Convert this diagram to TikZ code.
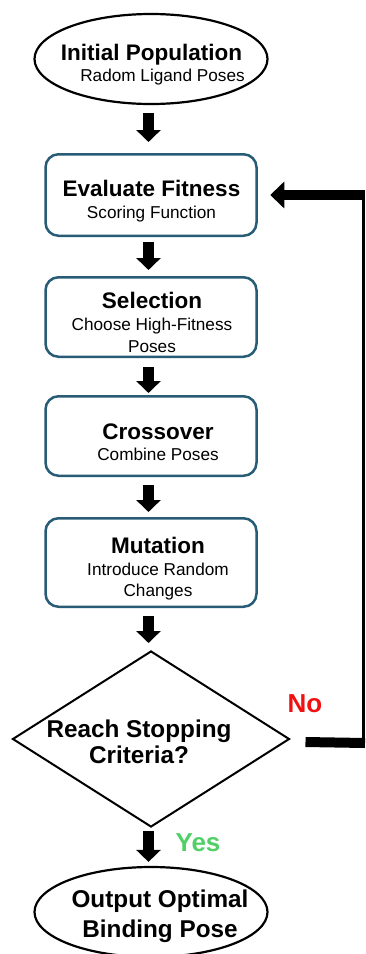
\documentclass[tikz,border=0pt]{standalone}
\usepackage{fontspec}
\setmainfont{Liberation Sans}
\usetikzlibrary{arrows.meta,shapes.geometric}
\definecolor{boxline}{RGB}{40,92,118}
\definecolor{nored}{RGB}{240,18,18}
\definecolor{yesgreen}{RGB}{80,208,102}
\newcommand{\hdtxt}{\fontsize{22.5}{26}\selectfont\bfseries}
\newcommand{\bigtxt}{\fontsize{24.3}{28}\selectfont\bfseries}
\newcommand{\marktxt}{\fontsize{26}{30}\selectfont\bfseries}
\newcommand{\subtxt}{\fontsize{17.2}{21}\selectfont}
\begin{document}
\begin{tikzpicture}[x=1pt,y=-1pt,
  stepbox/.style={draw=boxline, line width=2.5pt, rounded corners=13pt,
    minimum width=211pt, inner sep=0pt},
  oval/.style={draw, ellipse, line width=2.2pt, minimum width=233pt,
    minimum height=90pt, inner sep=0pt},
  decide/.style={draw, diamond, line width=2pt, minimum width=277pt,
    minimum height=176pt, inner sep=0pt},
  txt/.style={anchor=base, inner sep=0pt},
  flow/.style={line width=11pt, -{Triangle[length=12pt,width=24pt]}},
  backbar/.style={line width=10pt},
  backline/.style={line width=3.5pt}]
\useasboundingbox (0,0) rectangle (366,954);

% shapes
\node[oval] (init) at (151,59) {};
\node[stepbox, minimum height=81.5pt] (fit) at (151,195) {};
\node[stepbox, minimum height=79.5pt] (sel) at (151,317) {};
\node[stepbox, minimum height=79.5pt] (cross) at (151,436) {};
\node[stepbox, minimum height=88.5pt] (mut) at (151,562.5) {};
\node[decide] (stop) at (151,739) {};
\node[oval] (out) at (151,912) {};

% texts
\node[txt, font=\hdtxt] (init-t) at (151.5,60) {Initial Population};
\node[txt, font=\subtxt] (init-s) at (162.5,81) {Radom Ligand Poses};
\node[txt, font=\hdtxt] (fit-t) at (151.5,196) {Evaluate Fitness};
\node[txt, font=\subtxt] (fit-s) at (151.5,218) {Scoring Function};
\node[txt, font=\hdtxt] (sel-t) at (152,308) {Selection};
\node[txt, font=\subtxt] (sel-s1) at (152,330) {Choose High-Fitness};
\node[txt, font=\subtxt] (sel-s2) at (152,352) {Poses};
\node[txt, font=\hdtxt] (cross-t) at (158,439) {Crossover};
\node[txt, font=\subtxt] (cross-s) at (158,460) {Combine Poses};
\node[txt, font=\hdtxt] (mut-t) at (158,553) {Mutation};
\node[txt, font=\subtxt] (mut-s1) at (158,575) {Introduce Random};
\node[txt, font=\subtxt] (mut-s2) at (158,596) {Changes};
\node[txt, font=\bigtxt] (stop-t1) at (139,737) {Reach Stopping};
\node[txt, font=\bigtxt] (stop-t2) at (139,763) {Criteria?};
\node[txt, font=\bigtxt] (out-t1) at (160,907) {Output Optimal};
\node[txt, font=\bigtxt] (out-t2) at (160,937) {Binding Pose};
\node[txt, font=\marktxt, text=nored] (no) at (305,712) {No};
\node[txt, font=\marktxt, text=yesgreen] (yes) at (198,851) {Yes};

% forward flow
\draw[flow, shorten <=8pt, shorten >=11pt] ([xshift=-2.5pt]init.south) -- ([xshift=-2.5pt]fit.north);
\draw[flow, shorten <=5pt, shorten >=6pt] ([xshift=-2.5pt]fit.south) -- ([xshift=-2.5pt]sel.north);
\draw[flow, shorten <=9pt, shorten >=2pt] ([xshift=-2.5pt]sel.south) -- ([xshift=-2.5pt]cross.north);
\draw[flow, shorten <=8pt, shorten >=5pt] ([xshift=-2.5pt]cross.south) -- ([xshift=-2.5pt]mut.north);
\draw[flow, shorten <=8pt, shorten >=7pt] ([xshift=-2.5pt]mut.south) -- ([xshift=-2.5pt]stop.north);
\draw[flow, shorten <=3pt, shorten >=4pt] ([xshift=-2.5pt]stop.south) -- ([xshift=-2.5pt]out.north);

% feedback loop
\coordinate (loop-low) at (365,743);
\coordinate (loop-high) at (365,195);
\draw[backbar] ([xshift=15pt,yshift=-3pt]stop.east) -- (loop-low);
\draw[backline] ([xshift=-1.75pt,yshift=-5pt]loop-low) -- ([xshift=-1.75pt,yshift=5pt]loop-high);
\draw[backbar, -{Triangle[length=14pt,width=26pt]}, shorten >=12.5pt] (loop-high) -- (fit.east);
\end{tikzpicture}
\end{document}
